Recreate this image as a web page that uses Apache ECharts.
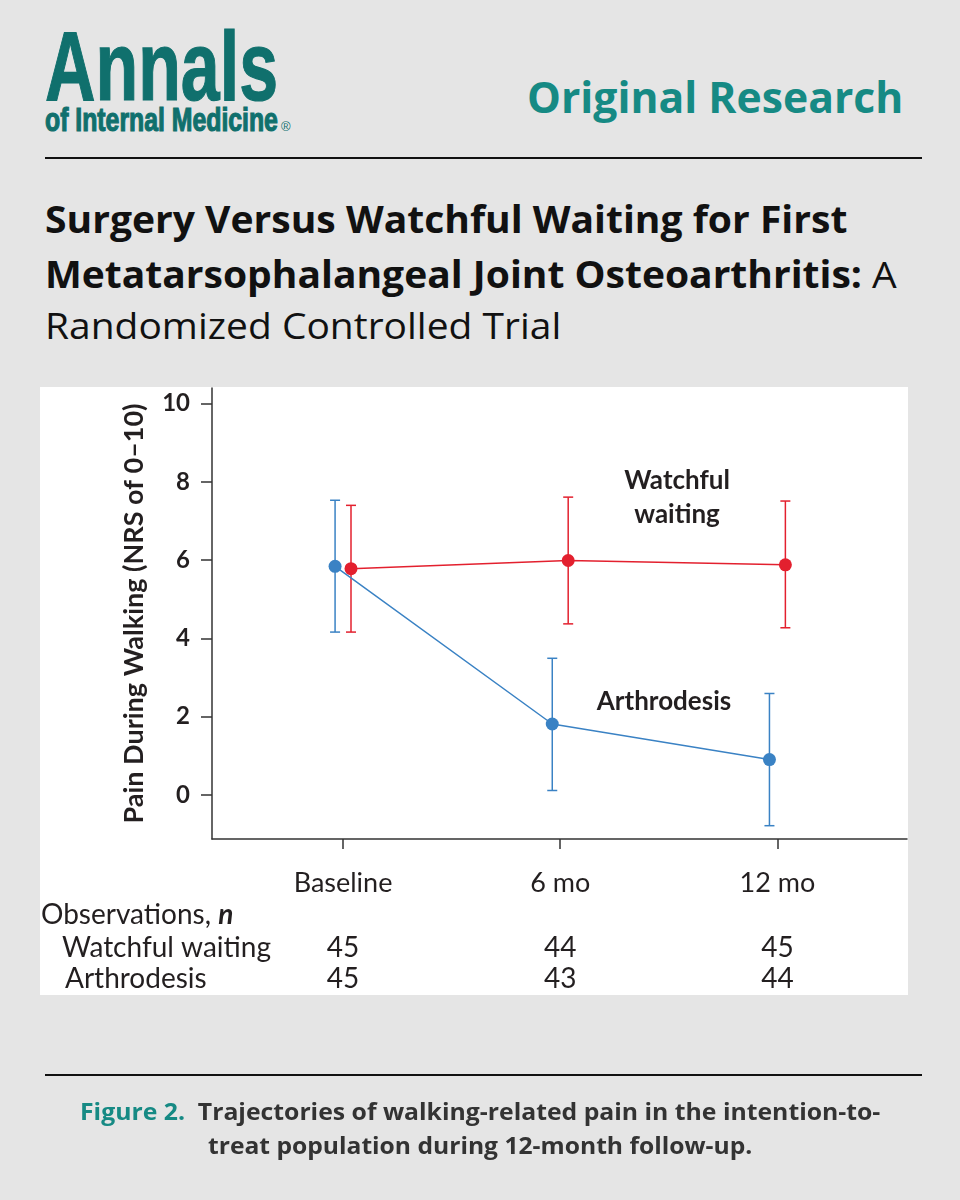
<!DOCTYPE html>
<html>
<head>
<meta charset="utf-8">
<script src="https://cdn.jsdelivr.net/npm/echarts@6/dist/echarts.min.js"></script>
<style>
  html, body { margin: 0; padding: 0; }
  body { width: 960px; height: 1200px; background: #e5e5e5; position: relative; overflow: hidden; font-family: 'Open Sans', sans-serif; }
  .abs { position: absolute; white-space: nowrap; line-height: 1; }
  .fit { display: inline-block; transform-origin: 0 0; }
  .logo { font-family: 'Liberation Sans', Arial, sans-serif; font-weight: 700; color: #10706d; -webkit-text-stroke: 1.2px #10706d; }
  .rule { position: absolute; height: 2px; background: #111; }
  #panel { position: absolute; left: 40px; top: 387px; width: 868px; height: 608px; background: #fff; }
  #chart { position: absolute; left: 0; top: 0; width: 960px; height: 1200px; }
</style>
</head>
<body>
<div class="abs logo" style="left:45px; top:16px; font-size:99px;"><span class="fit" data-w="233">Annals</span></div>
<div class="abs logo" style="left:45px; top:103px; font-size:33px;"><span class="fit" data-w="233">of Internal Medicine</span></div>
<div class="abs" style="left:281px; top:120px; font-size:13px; color:#10706d; font-family:'Liberation Sans',sans-serif;">®</div>
<div class="abs" style="right:57px; top:75px; font-size:43px; font-weight:700; color:#168a84;"><span class="fit" data-w="376" data-origin="right">Original Research</span></div>
<div class="rule" style="left:45px; top:157px; width:877px;"></div>

<div class="abs" style="left:45px; top:200px; font-size:37px; font-weight:700; color:#111;"><span class="fit" data-w="802">Surgery Versus Watchful Waiting for First</span></div>
<div class="abs" style="left:45px; top:255px; font-size:37px; color:#111;"><span class="fit" data-w="852"><b>Metatarsophalangeal Joint Osteoarthritis:</b> A</span></div>
<div class="abs" style="left:45px; top:306px; font-size:37px; color:#111;"><span class="fit" data-w="516">Randomized Controlled Trial</span></div>

<div id="panel"></div>
<div id="chart"></div>

<div class="rule" style="left:45px; top:1074px; width:877px;"></div>
<div class="abs" style="left:80px; top:1100px; font-size:23px; font-weight:700; color:#333;"><span class="fit" data-w="800"><span style="color:#168a84;">Figure 2.</span>&nbsp; Trajectories of walking-related pain in the intention-to-</span></div>
<div class="abs" style="left:208px; top:1134px; font-size:23px; font-weight:700; color:#333;"><span class="fit" data-w="544">treat population during 12-month follow-up.</span></div>

<script>
// ---- data ----
const months = [0, 6, 12];
const xLabels = ['Baseline', '6 mo', '12 mo'];
const yTicks = [0, 2, 4, 6, 8, 10];
const wwMean = [5.78, 5.99, 5.88];
const wwLow  = [4.16, 4.37, 4.27];
const wwHigh = [7.40, 7.61, 7.51];
const arMean = [5.84, 1.81, 0.90];
const arLow  = [4.16, 0.11, -0.79];
const arHigh = [7.53, 3.49, 2.59];
const wwCount = [45, 44, 45];
const arCount = [45, 43, 44];
const seriesNames = ['Watchful waiting', 'Arthrodesis'];

// ---- fit header text widths ----
document.querySelectorAll('.fit').forEach(el => {
  const w = el.offsetWidth;
  const t = +el.dataset.w;
  if (el.dataset.origin === 'right') el.style.transformOrigin = '100% 0';
  el.style.transform = 'scaleX(' + (t / w) + ')';
});

// ---- chart ----
const RED = '#e3202e';
const BLUE = '#3a82c4';
const DODGE = 0.22;
const FONT = 'Lato, "Open Sans", sans-serif';
const TXT = '#231f20';

function errData(lo, hi, off) {
  return months.map((m, i) => [m + off, lo[i], hi[i]]);
}
function errSeries(name, data, color) {
  return {
    type: 'custom', name: name, xAxisIndex: 0, yAxisIndex: 0, z: 2,
    data: data, encode: { x: 0, y: [1, 2] },
    renderItem: function (params, api) {
      const x = api.value(0);
      const pLo = api.coord([x, api.value(1)]);
      const pHi = api.coord([x, api.value(2)]);
      const w = 5;
      const st = { stroke: color, lineWidth: 1.5 };
      return { type: 'group', children: [
        { type: 'line', shape: { x1: pLo[0], y1: pLo[1], x2: pHi[0], y2: pHi[1] }, style: st },
        { type: 'line', shape: { x1: pLo[0] - w, y1: pLo[1], x2: pLo[0] + w, y2: pLo[1] }, style: st },
        { type: 'line', shape: { x1: pHi[0] - w, y1: pHi[1], x2: pHi[0] + w, y2: pHi[1] }, style: st }
      ]};
    }
  };
}

const xBase = { type: 'value', min: -3.62, max: 15.58, gridIndex: 0, position: 'bottom', splitLine: { show: false } };
const chart = echarts.init(document.getElementById('chart'), null, { renderer: 'canvas' });
chart.setOption({
  animation: false,
  backgroundColor: 'transparent',
  grid: { left: 212, right: 53, top: 388, bottom: 361, containLabel: false },
  xAxis: [
    Object.assign({}, xBase, {
      axisLine: { show: true, onZero: false, lineStyle: { color: '#333', width: 1.5 } },
      axisTick: { show: true, customValues: months, length: 10, lineStyle: { color: '#333', width: 1.5 } },
      axisLabel: { customValues: months, margin: 31, fontSize: 27, fontFamily: FONT, color: TXT,
        formatter: v => xLabels[months.indexOf(v)] }
    }),
    Object.assign({}, xBase, {
      axisLine: { show: false, onZero: false }, axisTick: { show: false },
      axisLabel: { customValues: months, margin: 95, fontSize: 28, fontFamily: FONT, color: TXT,
        formatter: v => String(wwCount[months.indexOf(v)]) }
    }),
    Object.assign({}, xBase, {
      axisLine: { show: false, onZero: false }, axisTick: { show: false },
      axisLabel: { customValues: months, margin: 126, fontSize: 28, fontFamily: FONT, color: TXT,
        formatter: v => String(arCount[months.indexOf(v)]) }
    })
  ],
  yAxis: {
    type: 'value', min: -1.13, max: 10.4,
    splitLine: { show: false },
    axisLine: { show: true, onZero: false, lineStyle: { color: '#333', width: 1.5 } },
    axisTick: { show: true, customValues: yTicks, length: 11, lineStyle: { color: '#333', width: 1.5 } },
    axisLabel: { customValues: yTicks, margin: 22, fontSize: 24, fontWeight: 'bold', fontFamily: FONT, color: TXT },
    name: 'Pain During Walking (NRS of 0–10)',
    nameLocation: 'middle', nameRotate: 90, nameGap: 64,
    nameTextStyle: { fontSize: 27, fontWeight: 'bold', fontFamily: FONT, color: TXT }
  },
  series: [
    errSeries(seriesNames[1], errData(arLow, arHigh, -DODGE), BLUE),
    errSeries(seriesNames[0], errData(wwLow, wwHigh, DODGE), RED),
    {
      type: 'line', name: seriesNames[1], xAxisIndex: 0, z: 3,
      data: months.map((m, i) => [m - DODGE, arMean[i]]),
      symbol: 'circle', symbolSize: 13,
      lineStyle: { color: BLUE, width: 1.5 }, itemStyle: { color: BLUE }
    },
    {
      type: 'line', name: seriesNames[0], xAxisIndex: 0, z: 4,
      data: months.map((m, i) => [m + DODGE, wwMean[i]]),
      symbol: 'circle', symbolSize: 13,
      lineStyle: { color: RED, width: 1.5 }, itemStyle: { color: RED }
    }
  ],
  graphic: [
    { type: 'text', x: 677, y: 481, style: { text: 'Watchful', fontSize: 26, fontWeight: 'bold', fontFamily: FONT, fill: TXT, align: 'center', verticalAlign: 'middle' } },
    { type: 'text', x: 677, y: 515, style: { text: 'waiting', fontSize: 26, fontWeight: 'bold', fontFamily: FONT, fill: TXT, align: 'center', verticalAlign: 'middle' } },
    { type: 'text', x: 664, y: 702, style: { text: 'Arthrodesis', fontSize: 26, fontWeight: 'bold', fontFamily: FONT, fill: TXT, align: 'center', verticalAlign: 'middle' } },
    { type: 'text', x: 41, y: 915, style: { text: '{a|Observations, }{b|n}', verticalAlign: 'middle',
        rich: { a: { fontSize: 28, fontFamily: FONT, fill: TXT }, b: { fontSize: 28, fontFamily: FONT, fontStyle: 'italic', fontWeight: 'bold', fill: TXT } } } },
    { type: 'text', x: 62, y: 948, style: { text: seriesNames[0], fontSize: 28, fontFamily: FONT, fill: TXT, verticalAlign: 'middle' } },
    { type: 'text', x: 65, y: 979, style: { text: seriesNames[1], fontSize: 28, fontFamily: FONT, fill: TXT, verticalAlign: 'middle' } }
  ]
});
</script>
</body>
</html>
